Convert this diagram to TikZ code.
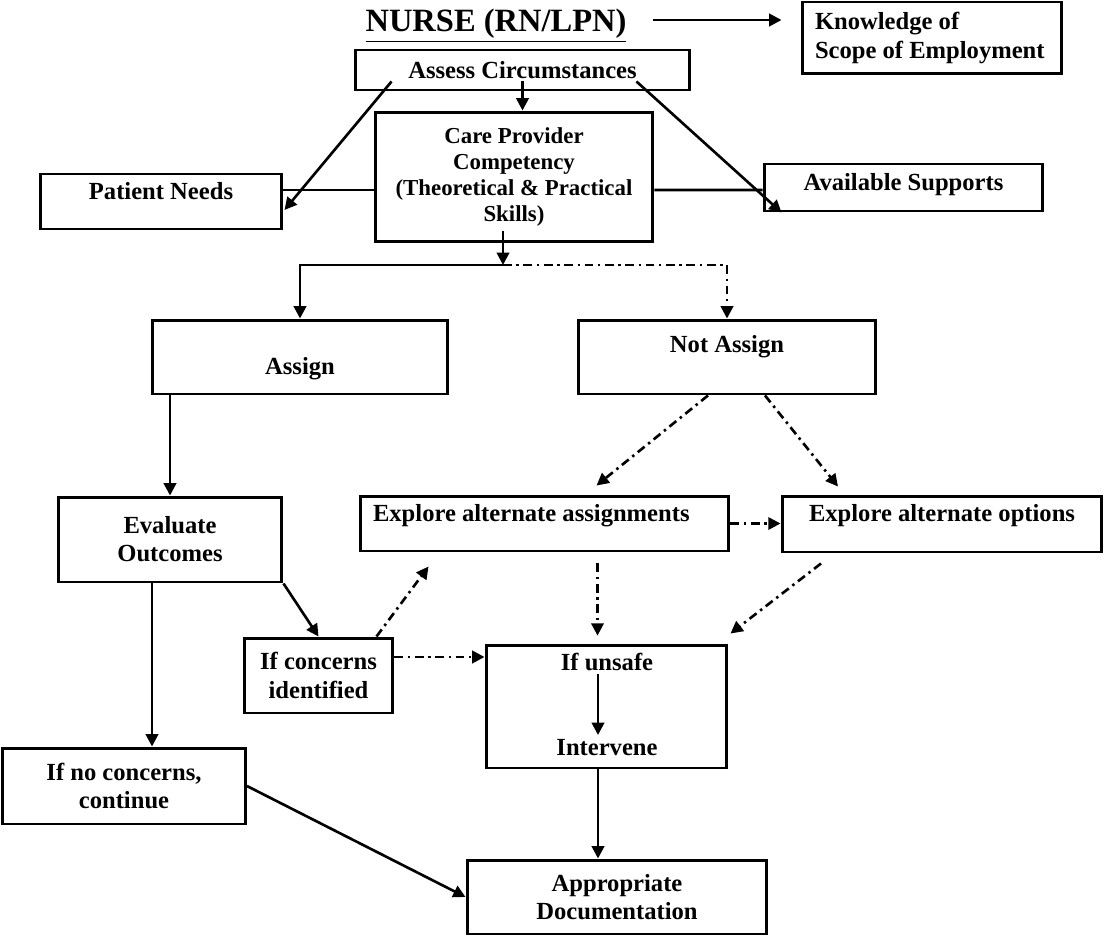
\documentclass[tikz,border=0pt]{standalone}
\usepackage{fontspec}
\setmainfont{Liberation Serif}
\usepackage{tikz}
\usetikzlibrary{arrows.meta, positioning, calc}

\begin{document}
\begin{tikzpicture}[x=0.02cm, y=-0.02cm,
    box/.style={draw, line width=1.7pt, inner sep=0pt, align=center,
      font=\bfseries\fontsize{14}{16}\selectfont},
    lbl/.style={inner sep=0pt, font=\bfseries\fontsize{14}{16}\selectfont},
    arr/.style={line width=1.5pt, -{Triangle[length=7pt, width=7pt]}},
    dashdot/.style={dash pattern=on 5pt off 2.6pt on 1.4pt off 2.6pt}]
  \useasboundingbox (0,0) rectangle (1105,936);

  \node[anchor=base, inner sep=0pt, font=\bfseries\fontsize{18.5}{22}\selectfont] (title) at (496,32) {\underline{NURSE (RN/LPN)}};
  \node[box, align=flush left, inner xsep=0.26cm, text width=4.68cm, minimum height=1.44cm, font=\bfseries\fontsize{14}{16.5}\selectfont] (knowledge) at (932,38) {Knowledge of\\Scope of Employment};
  \node[box, minimum width=6.7cm, minimum height=0.8cm] (assess) at (522.5,70) {Assess Circumstances};
  \node[box, minimum width=5.56cm, minimum height=2.6cm, font=\bfseries\fontsize{13}{14.9}\selectfont] (care) at (514,177) {Care Provider\\Competency\\(Theoretical \& Practical\\Skills)};
  \node[box, minimum width=4.84cm, text height=0.5cm, text depth=0.6cm] (patient) at (161,201.5) {Patient Needs};
  \node[box, minimum width=5.58cm, text height=0.52cm, text depth=0.42cm] (avail) at (903.5,187.5) {Available Supports};

  \node[box, minimum width=5.92cm, text height=1.08cm, text depth=0.4cm] (assign) at (300,357) {Assign};
  \node[box, minimum width=5.96cm, text height=0.64cm, text depth=0.84cm] (notassign) at (727,357) {Not Assign};
  \node[box, minimum width=4.48cm, minimum height=1.7cm] (evaluate) at (170,539.5) {Evaluate\\Outcomes};
  \node[box, align=flush left, inner xsep=0.26cm, text width=6.86cm, text height=0.5cm, text depth=0.6cm] (expa) at (544.5,523.5) {Explore alternate assignments};
  \node[box, minimum width=6.4cm, text height=0.5cm, text depth=0.62cm] (options) at (942,524) {Explore alternate options};
  \node[box, minimum width=2.98cm, minimum height=1.5cm] (concerns) at (318.5,675.5) {If concerns\\identified};
  \node[box, minimum width=4.82cm, minimum height=2.46cm] (unsafe) at (606.5,706.5) {};
  \node[lbl, anchor=base] (ifunsafe) at (607,670) {If unsafe};
  \node[lbl, anchor=base] (intervene) at (607,755) {Intervene};
  \node[box, minimum width=4.86cm, minimum height=1.52cm] (noconc) at (124,786) {If no concerns,\\continue};
  \node[box, minimum width=6cm, minimum height=1.48cm] (appr) at (617,897) {Appropriate\\Documentation};

  \coordinate (split) at (503,265);

  \draw[arr] ($(title.base east)+(26,-12)$) -- ($(title.base east -| knowledge.west)+(-19,-12)$);
  \draw[arr] ($(assess.south)+(0,-10)$) -- (assess.south |- care.north);
  \draw[arr] ($(assess.south west)+(38,-10)$) -- ($(patient.east)+(1,8.5)$);
  \draw[arr] ($(assess.south east)+(-55,-10)$) -- ($(avail.south west)+(19,0)$);
  \draw[line width=1.5pt] ($(patient.east)+(0,-11.5)$) -- ($(care.west)+(0,13)$);
  \draw[line width=1.5pt] ($(care.east)+(0,13)$) -- ($(avail.west)+(0,2.5)$);

  \draw[arr] ($(care.south)+(-11,-12)$) -- (split);
  \draw[arr] (split) -| (assign.north);
  \draw[arr, dashdot] (split) -| (notassign.north);

  \draw[arr] (evaluate.north |- assign.south) -- (evaluate.north);
  \draw[arr, dashdot] ($(notassign.south)+(-19,0)$) -- ($(expa.north)+(52,-9)$);
  \draw[arr, dashdot] ($(notassign.south)+(38,0)$) -- ($(options.north)+(-104,-8)$);
  \draw[arr, dashdot] (expa.east) -- (expa.east -| options.west);
  \draw[arr, dashdot, shorten >=4.5pt] ($(expa.south)+(53,11)$) -- ($(unsafe.north)+(-9,0)$);
  \draw[arr, dashdot] ($(options.south)+(-121,10)$) -- ($(unsafe.north east)+(2,-10)$);

  \draw[arr] (evaluate.south east) -- (concerns.north);
  \draw[arr] ($(evaluate.south)+(-18,0)$) -- ($(noconc.north)+(28,0)$);
  \draw[arr, dashdot] ($(concerns.north east)+(-18,0)$) -- ($(expa.south west)+(70,14)$);
  \draw[arr, dashdot] ($(concerns.east)+(0,-18.5)$) -- ($(unsafe.west)+(0,-49.5)$);

  \draw[arr, shorten <=2pt, shorten >=2pt] ($(ifunsafe.south)+(-9,0)$) -- ($(intervene.north)+(-9,0)$);
  \draw[arr] ($(unsafe.south)+(-8.5,0)$) -- ($(appr.north)+(-19,0)$);
  \draw[arr] (noconc.east) -- (appr.west);
\end{tikzpicture}
\end{document}
